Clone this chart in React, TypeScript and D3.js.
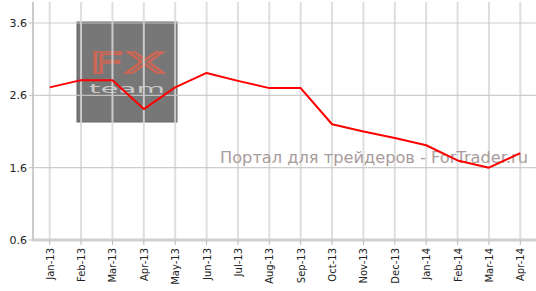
import React from "react";
import * as d3 from "d3";

const categories = ["Jan-13","Feb-13","Mar-13","Apr-13","May-13","Jun-13","Jul-13","Aug-13","Sep-13","Oct-13","Nov-13","Dec-13","Jan-14","Feb-14","Mar-14","Apr-14"];
const values = [2.71, 2.81, 2.81, 2.41, 2.71, 2.91, 2.80, 2.70, 2.70, 2.20, 2.10, 2.01, 1.91, 1.70, 1.60, 1.80];
const yTicks = [0.6, 1.6, 2.6, 3.6];

const W = 536, H = 291;
const left = 34, right = 536, top = 2, bottom = 240;

export default function App() {
  const x = d3.scaleBand<string>().domain(categories).range([left, right]);
  const y = d3.scaleLinear().domain([0.6, 3.6]).range([bottom, 23]);
  const cx = (c: string) => (x(c) as number) + x.bandwidth() / 2;
  const line = d3.line<number>().x((_, i) => cx(categories[i])).y(d => y(d));
  const font = "Verdana, 'DejaVu Sans', sans-serif";
  return (
    <svg width={W} height={H} style={{ position: "absolute", left: 0, top: 0, background: "#fff" }}>
      {/* watermark box */}
      <rect x={77} y={22} width={100} height={100} fill="#777" stroke="#666" strokeWidth={1} />
      <text transform="translate(127,73) scale(1,1.2)" textAnchor="middle" fontFamily={font} fontSize={24} fill="none" stroke="#cc6655" strokeWidth={1.4} textLength={76} lengthAdjust="spacingAndGlyphs">FX</text>
      <text x={127} y={92.5} textAnchor="middle" fontFamily={font} fontSize={12} fill="#c8c8c8" textLength={76} lengthAdjust="spacingAndGlyphs">team</text>
      {/* vertical grid */}
      {categories.map(c => (
        <line key={c} x1={cx(c)} x2={cx(c)} y1={top} y2={bottom} stroke="#d8d8d8" strokeOpacity={0.85} strokeWidth={2} />
      ))}
      {/* horizontal grid */}
      {yTicks.slice(1).map(t => (
        <line key={t} x1={left} x2={right} y1={y(t)} y2={y(t)} stroke="#c8c8c8" strokeOpacity={0.9} strokeWidth={1.2} />
      ))}
      {/* axes */}
      <line x1={33} x2={33} y1={top} y2={bottom + 1} stroke="#ccc" strokeWidth={2} />
      <line x1={33} x2={right} y1={bottom} y2={bottom} stroke="#d0d0d0" strokeWidth={3} />
      {yTicks.map(t => (
        <g key={t}>
          <line x1={29} x2={33} y1={y(t)} y2={y(t)} stroke="#bbb" strokeWidth={1} />
          <text x={27} y={y(t) + 4} textAnchor="end" fontFamily={font} fontSize={11} fill="#222">{t.toFixed(1)}</text>
        </g>
      ))}
      {categories.map(c => (
        <g key={c}>
          <line x1={cx(c)} x2={cx(c)} y1={bottom} y2={bottom + 5} stroke="#bbb" strokeWidth={1} />
          <text transform={`translate(${cx(c) + 4},${bottom + 8}) rotate(-90)`} textAnchor="end" fontFamily={font} fontSize={10} fill="#222">{c}</text>
        </g>
      ))}
      {/* watermark text */}
      <text x={220} y={163} fontFamily={font} fontSize={15} fill="#a89c9c" textLength={308} lengthAdjust="spacingAndGlyphs">Портал для трейдеров - ForTrader.ru</text>
      {/* series */}
      <path d={line(values) || ""} fill="none" stroke="#ff0000" strokeWidth={2} strokeLinejoin="round" />
    </svg>
  );
}
